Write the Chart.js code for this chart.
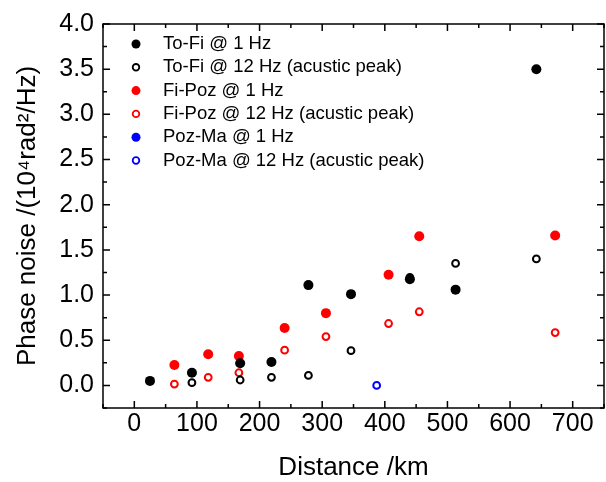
<!DOCTYPE html>
<html>
<head>
<meta charset="utf-8">
<script src="https://cdn.jsdelivr.net/npm/chart.js@4.4.0/dist/chart.umd.min.js"></script>
<style>
html, body { margin: 0; padding: 0; overflow: hidden; background: #fff; }
</style>
</head>
<body>
<canvas id="myChart" width="610" height="482"></canvas>
<script>
// data
var toFi1_dist  = [25, 92, 169, 219, 278, 346, 440, 513, 642];
var toFi1_noise = [0.05, 0.14, 0.245, 0.26, 1.11, 1.01, 1.175, 1.06, 3.5];
var toFi12_dist  = [92, 169, 219, 278, 346, 440, 513, 642];
var toFi12_noise = [0.03, 0.06, 0.09, 0.11, 0.385, 1.195, 1.35, 1.40];
var fiPoz1_dist  = [64, 118, 167, 240, 306, 406, 455, 672];
var fiPoz1_noise = [0.225, 0.345, 0.325, 0.635, 0.80, 1.225, 1.65, 1.66];
var fiPoz12_dist  = [64, 118, 167, 240, 306, 406, 455, 672];
var fiPoz12_noise = [0.015, 0.09, 0.14, 0.39, 0.54, 0.685, 0.815, 0.585];
var pozMa1_dist  = [];
var pozMa1_noise = [];
var pozMa12_dist  = [387];
var pozMa12_noise = [0.0];

var xTicks = [0, 100, 200, 300, 400, 500, 600, 700];
var yTicks = [0, 0.5, 1, 1.5, 2, 2.5, 3, 3.5, 4];

var fam = '"Liberation Sans", Arial, sans-serif';

function pts(xs, ys) {
	var out = [];
	for (let i = 0; i < xs.length; i++) {
		out.push({ x: xs[i], y: ys[i] });
	}
	return out;
}

function filled(label, col, xs, ys) {
	return {
		label: label,
		data: pts(xs, ys),
		backgroundColor: col,
		borderColor: col,
		borderWidth: 0,
		pointRadius: 5,
		filledDot: true
	};
}
function hollow(label, col, xs, ys) {
	return {
		label: label,
		data: pts(xs, ys),
		backgroundColor: 'rgba(255,255,255,0)',
		borderColor: col,
		borderWidth: 2,
		pointRadius: 3.4,
		filledDot: false
	};
}

// frame + inward ticks
var framePlugin = {
	id: 'frame',
	afterDraw: function(chart) {
		const c = chart.ctx;
		const a = chart.chartArea;
		const xs = chart.scales.x;
		const ys = chart.scales.y;
		c.save();
		c.strokeStyle = '#000';
		c.lineWidth = 1.5;
		c.strokeRect(a.left, a.top, a.right - a.left, a.bottom - a.top);
		c.beginPath();
		for (let v = -50; v <= 750; v += 50) {
			const p = xs.getPixelForValue(v);
			const len = (v % 100 == 0) ? 7 : 4;
			c.moveTo(p, a.bottom); c.lineTo(p, a.bottom - len);
			c.moveTo(p, a.top); c.lineTo(p, a.top + len);
		}
		for (let k = -1; k <= 16; k++) {
			const v = k * 0.25;
			const p = ys.getPixelForValue(v);
			const len = (k % 2 == 0) ? 7 : 4;
			c.moveTo(a.left, p); c.lineTo(a.left + len, p);
			c.moveTo(a.right, p); c.lineTo(a.right - len, p);
		}
		c.stroke();
		c.restore();
	}
};

// legend inside the plot
var legendPlugin = {
	id: 'legendIn',
	afterDraw: function(chart) {
		const c = chart.ctx;
		const a = chart.chartArea;
		c.save();
		c.font = '18.5px ' + fam;
		c.textBaseline = 'middle';
		c.textAlign = 'left';
		chart.data.datasets.forEach(function(ds, i) {
			const y = a.top + 20 + i * 23.3;
			const x = a.left + 33;
			c.beginPath();
			if (ds.filledDot) {
				c.arc(x, y, 4.5, 0, Math.PI * 2);
				c.fillStyle = ds.backgroundColor;
				c.fill();
			} else {
				c.arc(x, y, 3.3, 0, Math.PI * 2);
				c.lineWidth = 1.8;
				c.strokeStyle = ds.borderColor;
				c.stroke();
			}
			c.fillStyle = '#000';
			c.fillText(ds.label, a.left + 60, y);
		});
		c.restore();
	}
};

var chart1 = new Chart(document.getElementById('myChart'), {
	type: 'scatter',
	data: {
		datasets: [
			filled('To-Fi @ 1 Hz', '#000000', toFi1_dist, toFi1_noise),
			hollow('To-Fi @ 12 Hz (acustic peak)', '#000000', toFi12_dist, toFi12_noise),
			filled('Fi-Poz @ 1 Hz', '#ff0000', fiPoz1_dist, fiPoz1_noise),
			hollow('Fi-Poz @ 12 Hz (acustic peak)', '#ff0000', fiPoz12_dist, fiPoz12_noise),
			filled('Poz-Ma @ 1 Hz', '#0000ff', pozMa1_dist, pozMa1_noise),
			hollow('Poz-Ma @ 12 Hz (acustic peak)', '#0000ff', pozMa12_dist, pozMa12_noise)
		]
	},
	options: {
		responsive: false,
		animation: false,
		layout: { padding: { top: 21, left: 0, right: 2, bottom: 0 } },
		plugins: {
			legend: { display: false },
			tooltip: { enabled: false }
		},
		scales: {
			x: {
				type: 'linear',
				position: 'bottom',
				min: -50,
				max: 750,
				afterBuildTicks: function(s) { s.ticks = xTicks.map(v => ({ value: v })); },
				afterFit: function(s) { s.height = 74; },
				grid: { display: false, drawTicks: false },
				border: { display: false },
				ticks: { color: '#000', padding: 1, maxRotation: 0, font: { family: fam, size: 25 } },
				title: {
					display: true,
					text: 'Distance /km',
					color: '#000',
					font: { family: fam, size: 26, lineHeight: 1 },
					padding: { top: 0, bottom: 1 }
				}
			},
			y: {
				min: -0.25,
				max: 4.0,
				afterBuildTicks: function(s) { s.ticks = yTicks.map(v => ({ value: v })); },
				afterFit: function(s) { s.width = 103; },
				grid: { display: false, drawTicks: false },
				border: { display: false },
				ticks: {
					color: '#000',
					padding: 9,
					font: { family: fam, size: 25 },
					callback: function(v) { return Number(v).toFixed(1); }
				},
				title: {
					display: true,
					text: 'Phase noise /(10\u2074rad\u00b2/Hz)',
					color: '#000',
					font: { family: fam, size: 26 },
					padding: { top: 12, bottom: 0 }
				}
			}
		}
	},
	plugins: [framePlugin, legendPlugin]
});
</script>
</body>
</html>
